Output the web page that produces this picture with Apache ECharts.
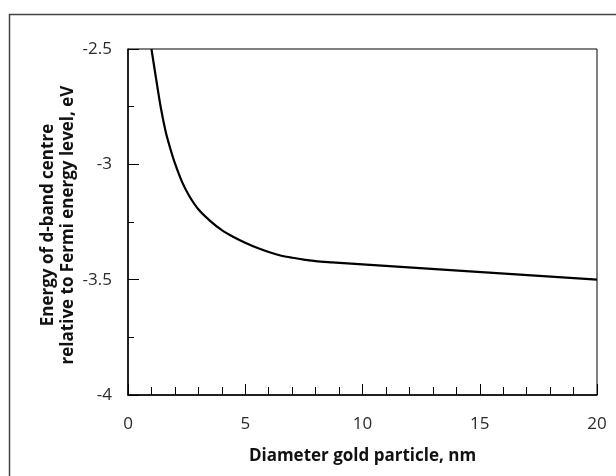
<!DOCTYPE html>
<html><head><meta charset="utf-8">
<script src="https://cdn.jsdelivr.net/npm/echarts@6/dist/echarts.min.js"></script>
<style>html,body{margin:0;padding:0;background:#fff}#c{width:616px;height:476px}</style>
</head><body><div id="c"></div>
<script>
const diameters = [1.0, 1.2, 1.4, 1.6, 1.8, 2.0, 2.3, 2.6, 3.0, 3.5, 4.0, 4.5, 5.0, 5.5, 6.0, 6.5, 7.0, 7.5, 8.0, 8.7, 20];
const energies  = [-2.50, -2.63, -2.755, -2.855, -2.93, -2.995, -3.075, -3.135, -3.195, -3.245, -3.285, -3.315, -3.34, -3.362, -3.38, -3.395, -3.405, -3.413, -3.42, -3.425, -3.50];
const xTitle = 'Diameter gold particle, nm';
const yTitle = 'Energy of d-band centre\nrelative to Fermi energy level, eV';

const chart = echarts.init(document.getElementById('c'), null, {renderer: 'canvas'});
const font = '"Open Sans", "Noto Sans", sans-serif';
chart.setOption({
  animation: false,
  backgroundColor: '#fff',
  graphic: [{
    type: 'rect', shape: {x: 9.5, y: 14.5, width: 800, height: 700},
    style: {fill: 'none', stroke: '#444', lineWidth: 1.5}, silent: true
  }, {
    type: 'text', x: 58, y: 225, rotation: Math.PI / 2, silent: true,
    style: {text: yTitle, fontFamily: font, fontSize: 17, fontWeight: 'bold', fill: '#111',
            lineHeight: 20, align: 'center', verticalAlign: 'middle'}
  }],
  grid: {left: 128, right: 19, top: 49, bottom: 81, show: true, borderColor: '#000', borderWidth: 1, backgroundColor: 'transparent'},
  xAxis: {
    type: 'value', min: 0, max: 20, interval: 5,
    name: xTitle, nameLocation: 'middle', nameGap: 53,
    nameTextStyle: {fontFamily: font, fontSize: 17, fontWeight: 'bold', color: '#111'},
    axisLine: {lineStyle: {color: '#000', width: 1.5}},
    axisTick: {inside: true, length: 11, lineStyle: {color: '#000', width: 1}},
    minorTick: {show: true, splitNumber: 5, length: 8, lineStyle: {color: '#000', width: 1}},
    axisLabel: {fontFamily: font, fontSize: 17, color: '#2a2a2a', margin: 21},
    splitLine: {show: false}
  },
  yAxis: {
    type: 'value', min: -4, max: -2.5, interval: 0.5,
    axisLine: {lineStyle: {color: '#000', width: 1.5}},
    axisTick: {inside: true, length: 11, lineStyle: {color: '#000', width: 1}},
    minorTick: {show: true, splitNumber: 2, length: 6, lineStyle: {color: '#000', width: 1}},
    axisLabel: {fontFamily: font, fontSize: 17, color: '#2a2a2a', margin: 16, formatter: v => String(v)},
    splitLine: {show: false}
  },
  series: [{
    type: 'line', data: diameters.map((d, i) => [d, energies[i]]),
    smooth: 0.3, showSymbol: false, symbol: 'none',
    lineStyle: {color: '#000', width: 2.2}
  }]
});
</script></body></html>
